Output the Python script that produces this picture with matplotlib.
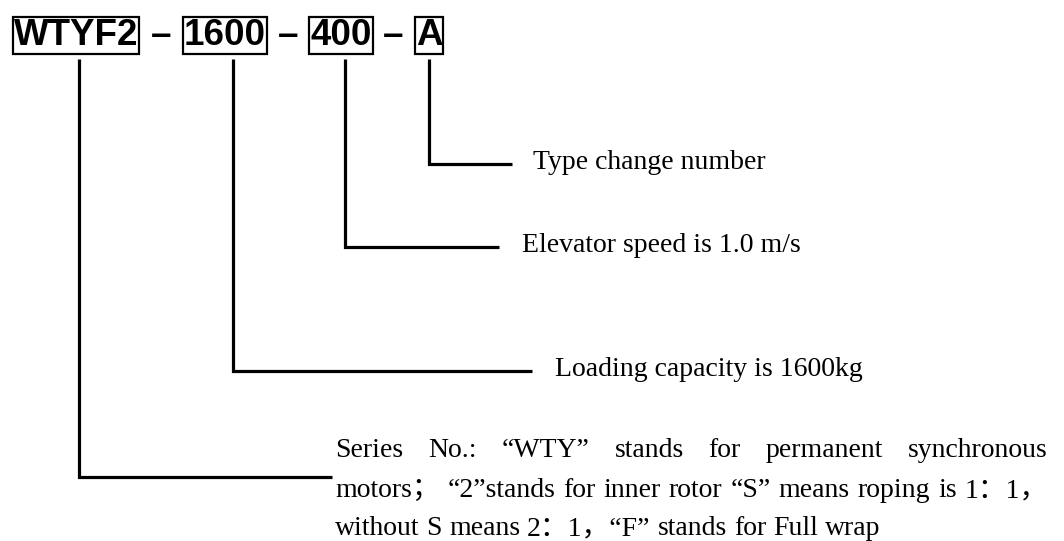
import matplotlib
matplotlib.use("Agg")
import matplotlib.pyplot as plt

# model code parts and what each one means
code_parts = ["WTYF2", "–", "1600", "–", "400", "–", "A"]
boxed = [True, False, True, False, True, False, True]
labels = ["Type change number",
          "Elevator speed is 1.0 m/s",
          "Loading capacity is 1600kg"]
series_lines = [
    ["Series", "No.:", "“WTY”", "stands", "for", "permanent", "synchronous"],
    ["motors；", "“2”stands", "for", "inner", "rotor", "“S”", "means", "roping", "is", "1：1，"],
    ["without", "S", "means", "2：1，“F”", "stands", "for", "Full", "wrap"],
]
justified = [True, True, False]

# layout (pixels, y downwards)
W, H = 1064, 541
part_x = [76, 161, 225, 288, 341, 393, 429]
head_base = 45
stem_top = 59
stem_x = [429, 345, 233, 79]          # A, 400, 1600, WTYF2
stem_bottom = [164, 247, 371, 477]
arm_end = [512, 499, 532, 332]
label_x = [533, 522, 555]
para_x0, para_x1 = 335, 1048
para_base = [457, 497, 535]

body_font = ["Liberation Serif", "Noto Sans CJK SC", "DejaVu Sans"]
body_size = 20

fig = plt.figure(figsize=(W / 100, H / 100), dpi=100)
ax = fig.add_axes([0, 0, 1, 1])
ax.set_xlim(0, W)
ax.set_ylim(H, 0)
ax.axis("off")

# header
for txt, x, b in zip(code_parts, part_x, boxed):
    kw = {}
    if b:
        kw["bbox"] = dict(boxstyle="square,pad=0.03", fc="none", ec="black", lw=1.6)
    ax.text(x, head_base, txt, ha="center", va="baseline", fontsize=26.5,
            fontweight="bold", family="Liberation Sans", **kw)

# leader lines
for sx, sb, ae in zip(stem_x, stem_bottom, arm_end):
    ax.plot([sx, sx, ae], [stem_top, sb, sb], color="black", lw=2.3,
            solid_joinstyle="miter", solid_capstyle="butt")

for txt, lx, sb in zip(labels, label_x, stem_bottom[:3]):
    ax.text(lx, sb + 5, txt, ha="left", va="baseline", fontsize=body_size,
            family=body_font)

# series paragraph, justified by hand
fig.canvas.draw()
renderer = fig.canvas.get_renderer()
probe = ax.text(0, 0, "a a", fontsize=body_size, family=body_font)
w2 = probe.get_window_extent(renderer).width
probe.set_text("aa")
sp = w2 - probe.get_window_extent(renderer).width
probe.remove()

for words, yb, just in zip(series_lines, para_base, justified):
    items = [ax.text(0, yb, w, ha="left", va="baseline", fontsize=body_size,
                     family=body_font) for w in words]
    widths = [t.get_window_extent(renderer).width for t in items]
    if just:
        gap = (para_x1 - para_x0 - sum(widths)) / (len(words) - 1)
    else:
        gap = sp
    x = para_x0
    for t, w in zip(items, widths):
        t.set_x(x)
        x += w + gap

fig.savefig("out.png", dpi=100, facecolor="white")
